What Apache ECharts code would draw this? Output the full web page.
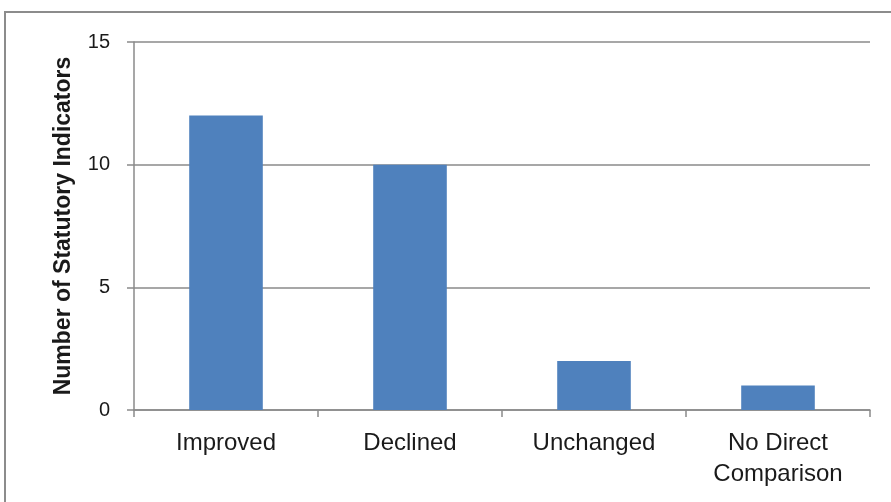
<!DOCTYPE html>
<html>
<head>
<meta charset="utf-8">
<script src="https://cdn.jsdelivr.net/npm/echarts@6/dist/echarts.min.js"></script>
<style>
  html, body { margin: 0; padding: 0; background: #fff; }
  #chart { width: 891px; height: 502px; }
</style>
</head>
<body>
<div id="chart"></div>
<script>
const categories = ['Improved', 'Declined', 'Unchanged', 'No Direct\nComparison'];
const counts = [12, 10, 2, 1];
const yTicks = { min: 0, max: 15, interval: 5 };
const yAxisTitle = 'Number of Statutory Indicators';

const chart = echarts.init(document.getElementById('chart'));
const font = '"Liberation Sans", Arial, sans-serif';
const axisGray = '#8a8a8a';

chart.setOption({
  animation: false,
  backgroundColor: '#ffffff',
  graphic: [{
    type: 'rect',
    shape: { x: 5, y: 12, width: 900, height: 500 },
    style: { fill: 'none', stroke: '#8c8c8c', lineWidth: 2 }
  }],
  grid: { left: 134, right: 21, top: 42, bottom: 92 },
  xAxis: {
    type: 'category',
    data: categories,
    axisLine: { lineStyle: { color: axisGray, width: 1.5 } },
    axisTick: { show: true, alignWithLabel: false, length: 7, lineStyle: { color: axisGray, width: 1.5 } },
    axisLabel: { color: '#1a1a1a', fontFamily: font, fontSize: 24, margin: 18, lineHeight: 31 }
  },
  yAxis: {
    type: 'value',
    min: yTicks.min, max: yTicks.max, interval: yTicks.interval,
    name: yAxisTitle,
    nameLocation: 'middle',
    nameGap: 59,
    nameTextStyle: { color: '#1a1a1a', fontFamily: font, fontSize: 23, fontWeight: 'bold' },
    axisLine: { show: true, lineStyle: { color: axisGray, width: 1.5 } },
    axisTick: { show: true, length: 7, lineStyle: { color: axisGray, width: 1.5 } },
    axisLabel: { color: '#1a1a1a', fontFamily: font, fontSize: 20, margin: 24 },
    splitLine: { lineStyle: { color: axisGray, width: 1.5 } }
  },
  series: [{
    type: 'bar',
    data: counts,
    barWidth: '40%',
    itemStyle: { color: '#4f81bd' }
  }]
});
</script>
</body>
</html>
